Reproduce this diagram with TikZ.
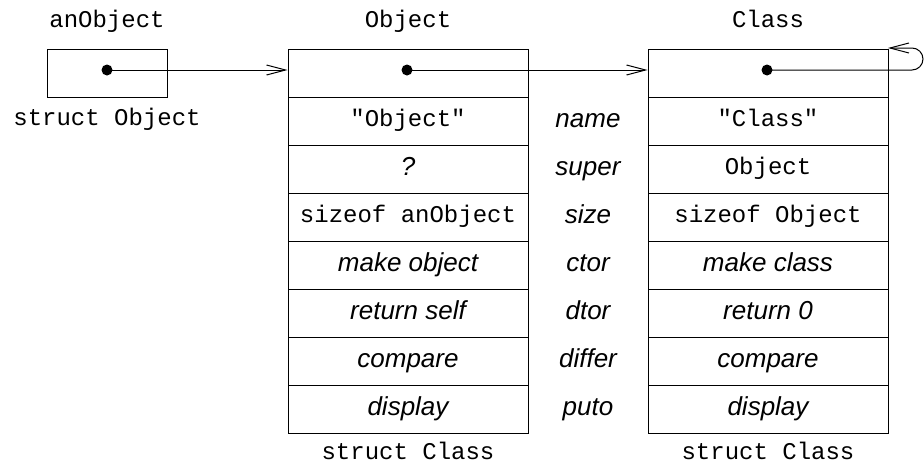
\documentclass[tikz,border=0pt]{standalone}
\usepackage{fontspec}
\setmainfont{Liberation Sans}
\setmonofont{Liberation Mono}
\usetikzlibrary{arrows.meta}

\tikzset{
  slot/.style={draw,rectangle,minimum width=240pt,minimum height=48pt,inner sep=0pt},
  ptr/.style={circle,fill,inner sep=0pt,minimum size=11pt},
  link/.style={-{Straight Barb[length=19pt,width=10pt]}},
  code/.style={font=\fontsize{24}{28}\selectfont\ttfamily,text height=16pt,text depth=5pt},
  meth/.style={font=\fontsize{26}{30}\selectfont\itshape,text height=18pt,text depth=5pt}
}

\begin{document}
\begin{tikzpicture}[x=1pt,y=-1pt,line width=1pt]

        \useasboundingbox (0,0) rectangle (924,466);

        \begin{scope}[every node/.style={code}]
          \node (anobj)  at (107,22)  {anObject};
          \node (objt)   at (408,22)  {Object};
          \node (clst)   at (768,22)  {Class};
          \node (sobj)   at (107,120) {struct Object};
          \node (scls1)  at (408,454) {struct Class};
          \node (scls2)  at (768,454) {struct Class};
        \end{scope}

        \node[draw,rectangle,minimum width=120pt,minimum height=48pt] (box) at (107,73) {};

        \begin{scope}[every node/.style={slot}]
          \node (o0) at (408,73)  {};
          \node[code] (o1) at (408,121) {"Object"};
          \node[meth] (o2) at (408,169) {?};
          \node[code] (o3) at (408,217) {sizeof anObject};
          \node[meth] (o4) at (408,265) {make object};
          \node[meth] (o5) at (408,313) {return self};
          \node[meth] (o6) at (408,361) {compare};
          \node[meth] (o7) at (408,409) {display};

          \node (c0) at (768,73)  {};
          \node[code] (c1) at (768,121) {"Class"};
          \node[code] (c2) at (768,169) {Object};
          \node[code] (c3) at (768,217) {sizeof Object};
          \node[meth] (c4) at (768,265) {make class};
          \node[meth] (c5) at (768,313) {return 0};
          \node[meth] (c6) at (768,361) {compare};
          \node[meth] (c7) at (768,409) {display};
        \end{scope}

        \begin{scope}[every node/.style={meth}]
          \node (name)   at (588,121) {name};
          \node (super)  at (588,169) {super};
          \node (size)   at (588,217) {size};
          \node (ctor)   at (588,265) {ctor};
          \node (dtor)   at (588,313) {dtor};
          \node (differ) at (588,361) {differ};
          \node (puto)   at (588,409) {puto};
        \end{scope}

        \begin{scope}[every node/.style={ptr}]
          \node (p1) at (107,70) {};
          \node (p2) at (407,70) {};
          \node (p3) at (767,70) {};
        \end{scope}

        \coordinate (turn) at (912,70);
        \coordinate (back) at (888,48);

        \draw[link] (p1.center) -- (p1.center -| o0.west);
        \draw[link] (p2.center) -- (p2.center -| c0.west);
        \draw[link] (p3.center) -- (turn) arc[start angle=90,end angle=-90,radius=11] -- (back);

      \end{tikzpicture}
\end{document}
